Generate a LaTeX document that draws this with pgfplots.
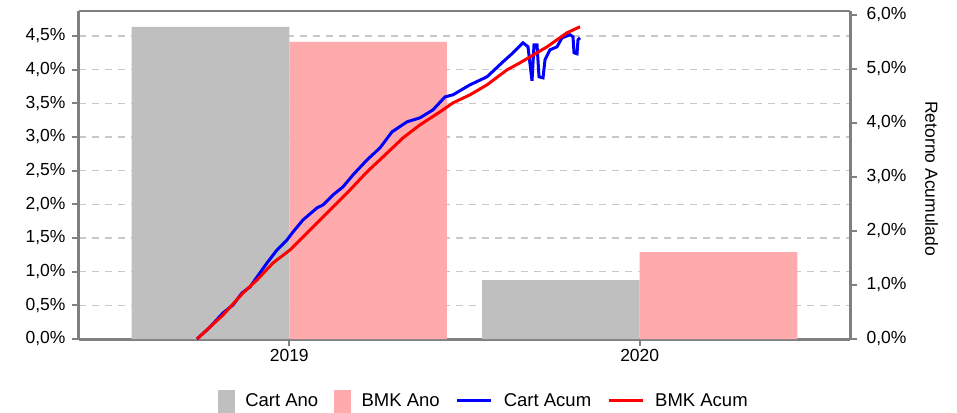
\documentclass[border=0pt]{standalone}
\usepackage{pgfplots}
\pgfplotsset{compat=1.18}
\usepackage{fontspec}
\setmainfont{Liberation Sans}

\definecolor{cartgray}{RGB}{191,191,191}
\definecolor{bmkpink}{RGB}{255,171,173}
\definecolor{axgray}{RGB}{128,128,128}
\definecolor{gridgray}{RGB}{200,200,200}

\begin{document}
\begin{tikzpicture}
\pgfplotsset{
  every axis/.append style={
    width=771pt, height=328pt, scale only axis,
    font=\fontsize{17.5}{21}\selectfont,
    /pgf/number format/assume math mode=true,
    tick align=outside, major tick length=7pt,
    tick style={axgray, line width=2pt},
    axis line style={axgray, line width=3pt, -},
  },
}
% left axis: yearly returns (bars)
\begin{axis}[
  at={(0,0)}, anchor=south west, clip=false,
  xmin=-0.6, xmax=1.6, ymin=0, ymax=4.87,
  axis x line*=bottom, axis y line*=left,
  xtick={0,1}, xticklabels={2019,2020},
  ytick={0,0.5,...,4.5},
  yticklabel={\pgfmathprintnumber[fixed,fixed zerofill,precision=1,use comma]{\tick}\%},
  yticklabel style={xshift=-3pt},
  ymajorgrids, major grid style={gridgray, line width=1.2pt, dash pattern=on 7pt off 6pt},
]
\addplot[ybar, bar width=0.45, bar shift=-0.225, fill=cartgray, draw=none]
  coordinates {(0,4.634) (1,0.876)};
\addplot[ybar, bar width=0.45, bar shift=0.225, fill=bmkpink, draw=none]
  coordinates {(0,4.410) (1,1.290)};
\draw[axgray, line width=1.5pt] (rel axis cs:0,1) -- (rel axis cs:1,1);
\end{axis}

% right axis: accumulated returns (lines)
\begin{axis}[
  at={(0,0)}, anchor=south west,
  xmin=-118, xmax=653, ymin=0, ymax=6.07,
  axis x line=none, axis y line*=right,
  ytick={0,1,...,6},
  yticklabel={\pgfmathprintnumber[fixed,fixed zerofill,precision=1,use comma]{\tick}\%},
  yticklabel style={xshift=6pt},
  ylabel={Retorno Acumulado},
  ylabel style={at={(axis description cs:1.1057,0.489)}, anchor=center, rotate=180},
  legend columns=4,
  legend style={at={(0.525,-0.189)}, anchor=center, draw=none, fill=none,
    font=\fontsize{18.5}{21}\selectfont,
    /tikz/every odd column/.append style={column sep=9pt},
    /tikz/every even column/.append style={column sep=14pt}},
]
\addlegendimage{legend image code/.code={\fill[cartgray] (0pt,-11pt) rectangle (16pt,11pt);}}
\addlegendimage{legend image code/.code={\fill[bmkpink] (0pt,-11pt) rectangle (16pt,11pt);}}
\addplot[blue, line width=3pt, legend image code/.code={\draw[blue, line width=3pt] (0pt,0pt) -- (34pt,0pt);}]
  coordinates {
  (0,0) (13,0.222) (26,0.481) (36,0.630) (45,0.852) (53,0.963) (60,1.148) (70,1.407)
  (80,1.648) (90,1.833) (96,1.981) (106,2.204) (120,2.426) (126,2.481) (136,2.667)
  (146,2.815) (156,3.037) (170,3.315) (183,3.537) (195,3.833) (210,4.019) (223,4.093)
  (236,4.241) (248,4.481) (256,4.519) (273,4.704) (290,4.852) (306,5.130) (316,5.296)
  (326,5.481) (331,5.407) (335,4.778) (337,5.444) (340,5.444) (342,4.852) (346,4.833)
  (348,5.167) (353,5.352) (360,5.407) (365,5.574) (373,5.630) (376,5.593) (377,5.296)
  (380,5.278) (381,5.537) (383,5.574)
  };
\addplot[red, line width=3pt, legend image code/.code={\draw[red, line width=3pt] (0pt,0pt) -- (34pt,0pt);}]
  coordinates {
  (0,0) (26,0.444) (46,0.852) (60,1.093) (76,1.407) (93,1.648) (110,1.963) (126,2.259)
  (143,2.574) (153,2.759) (170,3.093) (186,3.370) (206,3.722) (223,3.963) (243,4.204)
  (256,4.370) (273,4.519) (290,4.704) (310,4.981) (323,5.111) (350,5.407) (370,5.667)
  (383,5.778)
  };
\legend{Cart Ano, BMK Ano, Cart Acum, BMK Acum}
\end{axis}
\pgfresetboundingbox
\path[use as bounding box] (-79pt,-73pt) rectangle (878pt,339pt);
\end{tikzpicture}
\end{document}
